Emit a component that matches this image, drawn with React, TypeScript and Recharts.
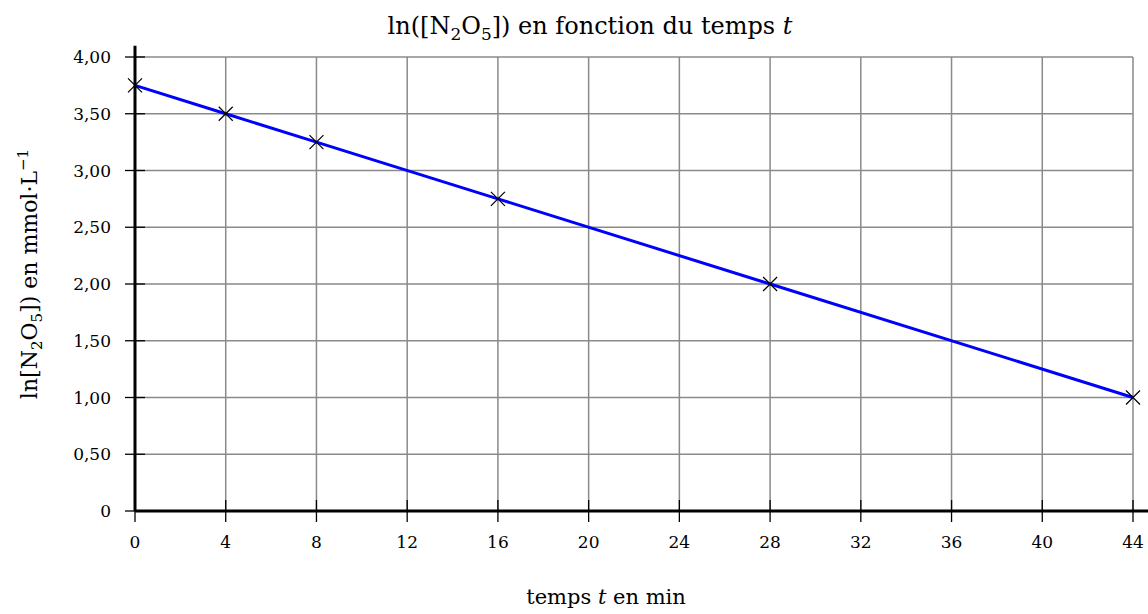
import { LineChart, Line, XAxis, YAxis, CartesianGrid, ReferenceLine } from 'recharts';

// mesures : temps (min) et ln([N2O5])
const temps = [0, 4, 8, 16, 28, 44];
const lnConc = [3.75, 3.5, 3.25, 2.75, 2.0, 1.0];

const xTicks = [0, 4, 8, 12, 16, 20, 24, 28, 32, 36, 40, 44];
const yTicks = [0, 0.5, 1, 1.5, 2, 2.5, 3, 3.5, 4];

const data = temps.map((t, i) => ({ t, ln: lnConc[i] }));

const FONT = "'DejaVu Serif', serif";

const fmtY = (v: number) => (v === 0 ? '0' : v.toFixed(2).replace('.', ','));

const XTick = ({ x, y, payload }: any) => (
  <g>
    <line x1={x} x2={x} y1={y - 11} y2={y + 11} stroke='#000' strokeWidth={1.3} />
    <text x={x} y={y + 37} textAnchor='middle' fontFamily={FONT} fontSize={17} fill='#000'>
      {payload.value}
    </text>
  </g>
);

const YTick = ({ x, y, payload }: any) => (
  <g>
    <line x1={x - 10} x2={x + 10} y1={y} y2={y} stroke='#000' strokeWidth={1.3} />
    <text x={x - 24} y={y + 6} textAnchor='end' fontFamily={FONT} fontSize={17} fill='#000'>
      {fmtY(payload.value)}
    </text>
  </g>
);

const Cross = ({ cx, cy, index }: any) => (
  <path
    key={`c-${index}`}
    d={`M${cx - 7},${cy - 7}L${cx + 7},${cy + 7}M${cx - 7},${cy + 7}L${cx + 7},${cy - 7}`}
    stroke='#000'
    strokeWidth={1.2}
    fill='none'
  />
);

export default function App() {
  return (
    <div style={{ position: 'absolute', left: 0, top: 0, width: 1148, height: 614, background: '#fff' }}>
      <LineChart
        width={1148}
        height={614}
        data={data}
        margin={{ top: 57, right: 15, left: 75, bottom: 73 }}
      >
        <CartesianGrid stroke='#8a8a8a' strokeWidth={1.5} />
        <XAxis
          dataKey='t'
          type='number'
          domain={[0, 44]}
          ticks={xTicks}
          axisLine={false}
          tickLine={false}
          tickSize={0}
          tickMargin={0}
          tick={<XTick />}
          height={30}
        />
        <YAxis
          type='number'
          domain={[0, 4]}
          ticks={yTicks}
          axisLine={false}
          tickLine={false}
          tickSize={0}
          tickMargin={0}
          tick={<YTick />}
          width={60}
        />
        {/* axes prolongés */}
        <ReferenceLine segment={[{ x: 0, y: 0 }, { x: 44.7, y: 0 }]} stroke='#000' strokeWidth={3} ifOverflow='visible' />
        <ReferenceLine segment={[{ x: 0, y: 0 }, { x: 0, y: 4.1 }]} stroke='#000' strokeWidth={3} ifOverflow='visible' />
        <Line
          dataKey='ln'
          stroke='#0000ff'
          strokeWidth={3}
          dot={<Cross />}
          activeDot={false}
          isAnimationActive={false}
        />
      </LineChart>
      <svg
        width={1148}
        height={614}
        style={{ position: 'absolute', left: 0, top: 0, pointerEvents: 'none' }}
        fontFamily={FONT}
      >
        <text x={590} y={34} textAnchor='middle' fontSize={24}>
          ln([N<tspan fontSize={17} dy={6}>2</tspan>
          <tspan dy={-6}>O</tspan>
          <tspan fontSize={17} dy={6}>5</tspan>
          <tspan dy={-6}>]) en fonction du temps </tspan>
          <tspan fontStyle='italic'>t</tspan>
        </text>
        <text x={606} y={604} textAnchor='middle' fontSize={21}>
          temps <tspan fontStyle='italic'>t</tspan> en min
        </text>
        <text x={0} y={0} textAnchor='middle' fontSize={22} transform='translate(37,274) rotate(-90)'>
          ln[N<tspan fontSize={15} dy={5}>2</tspan>
          <tspan dy={-5}>O</tspan>
          <tspan fontSize={15} dy={5}>5</tspan>
          <tspan dy={-5}>]) en mmol·L</tspan>
          <tspan fontSize={15} dy={-9}>−1</tspan>
        </text>
      </svg>
    </div>
  );
}
